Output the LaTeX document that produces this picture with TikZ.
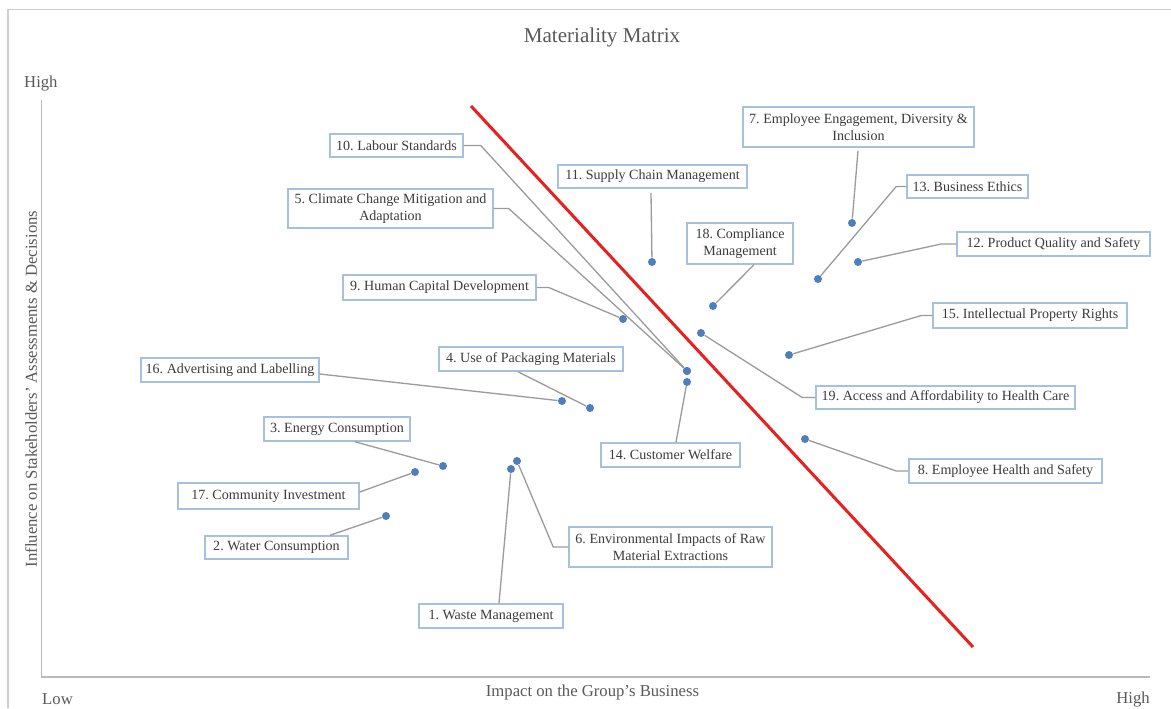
\documentclass[tikz,border=0pt]{standalone}
\usepackage{fontspec}
\setmainfont{Liberation Serif}
\usetikzlibrary{calc}
\usetikzlibrary{positioning}
\definecolor{boxblue}{RGB}{166,193,223}
\definecolor{dotblue}{RGB}{79,126,189}
\definecolor{leadgray}{RGB}{155,155,155}
\definecolor{axisgray}{RGB}{185,185,185}
\definecolor{txtgray}{RGB}{60,60,60}
\definecolor{matred}{RGB}{232,32,32}
\frenchspacing

\begin{document}
\begin{tikzpicture}[x=0.02cm,y=-0.02cm,
  lbl/.style n args={2}{draw=boxblue,line width=0.85pt,fill=white,text=txtgray,font=\fontsize{8}{9.5}\selectfont,align=center,inner sep=0pt,minimum width=#1*0.02cm,minimum height=#2*0.02cm},
  dot/.style={circle,fill=dotblue,inner sep=0pt,minimum size=0.16cm},
  leader/.style={draw=leadgray,line width=0.75pt},
  axlbl/.style={text=txtgray!85,font=\fontsize{9.5}{11}\selectfont}]
\useasboundingbox (0,0) rectangle (1171,708);

% frame and axes
\draw[axisgray!70,line width=0.8pt] (8,708) -- (8,9.5) -- (1171,9.5);
\draw[axisgray,line width=0.8pt] (41.5,100) -- (41.5,677) -- (1150,677);
\node[axlbl,font=\fontsize{12}{14}\selectfont] (title) at (602,37) {Materiality Matrix};
\node[axlbl,anchor=west] (yhigh) at (18,84) {High};
\node[axlbl,anchor=west] (xlow) at (36,699) {Low};
\node[axlbl,anchor=east] (xhigh) at (1156,699) {High};
\node[axlbl] (xlabel) at (592.5,692) {Impact on the Group’s Business};
\node[axlbl,rotate=90] (ylabel) at (31,389) {Influence on Stakeholders’ Assessments \& Decisions};

% issue labels
\node[lbl={144}{24}] (b1) at (491,616) {1. Waste Management};
\node[lbl={143}{23}] (b2) at (276.5,547.5) {2. Water Consumption};
\node[lbl={146}{24}] (b3) at (337,429) {3. Energy Consumption};
\node[lbl={184}{24}] (b4) at (531,359) {4. Use of Packaging Materials};
\node[lbl={205}{39}] (b5) at (390.5,208.5) {5. Climate Change Mitigation and\\Adaptation};
\node[lbl={203}{40}] (b6) at (670.5,547) {6. Environmental Impacts of Raw\\Material Extractions};
\node[lbl={231}{40}] (b7) at (858.5,127) {7. Employee Engagement, Diversity \&\\Inclusion};
\node[lbl={193}{24}] (b8) at (1005.5,471) {8. Employee Health and Safety};
\node[lbl={193}{25}] (b9) at (439.5,287.5) {9. Human Capital Development};
\node[lbl={133}{23}] (b10) at (396.5,145.5) {10. Labour Standards};
\node[lbl={189}{23}] (b11) at (652.5,176.5) {11. Supply Chain Management};
\node[lbl={193}{24}] (b12) at (1053.5,244) {12. Product Quality and Safety};
\node[lbl={121}{23}] (b13) at (967.5,186.5) {13. Business Ethics};
\node[lbl={139}{24}] (b14) at (670.5,455) {14. Customer Welfare};
\node[lbl={194}{25}] (b15) at (1030,315.5) {15. Intellectual Property Rights};
\node[lbl={178}{24}] (b16) at (230,370) {16. Advertising and Labelling};
\node[lbl={181}{26}] (b17) at (268.5,496) {17. Community Investment};
\node[lbl={106}{41}] (b18) at (740,243.5) {18. Compliance\\Management};
\node[lbl={259}{23}] (b19) at (945.5,397.5) {19. Access and Affordability to Health Care};

% data points
\node[dot] (d1) at (511,469) {};
\node[dot] (d2) at (386,516) {};
\node[dot] (d3) at (443,466) {};
\node[dot] (d4) at (590,408) {};
\node[dot] (d5) at (687,371) {};
\node[dot] (d6) at (517,461) {};
\node[dot] (d7) at (852,223) {};
\node[dot] (d8) at (805,439) {};
\node[dot] (d9) at (623,319) {};
\node[dot] (d10) at (687,371) {};
\node[dot] (d11) at (652,262) {};
\node[dot] (d12) at (858,262) {};
\node[dot] (d13) at (818,279) {};
\node[dot] (d14) at (687,382) {};
\node[dot] (d15) at (789,355) {};
\node[dot] (d16) at (562,401) {};
\node[dot] (d17) at (415,472) {};
\node[dot] (d18) at (713,306) {};
\node[dot] (d19) at (701,333) {};

% leader lines
\draw[leader] ($(b1.north)+(8,0)$) -- (d1);
\draw[leader] ($(b2.north)+(53.5,0)$) -- (d2);
\draw[leader] ($(b3.south)+(18,0)$) -- (d3);
\draw[leader] ($(b4.south)+(-13,0)$) -- (d4);
\draw[leader] (b5.east) -- ++(15,0) -- (d5);
\draw[leader] (b6.west) -- ++(-15,0) -- (d6);
\draw[leader] ($(b7.south)+(-0.5,3)$) -- (d7);
\draw[leader] (b8.west) -- ++(-12,0) -- (d8);
\draw[leader] (b9.east) -- ++(12,0) -- (d9);
\draw[leader] (b10.east) -- ++(17,0) -- (d10);
\draw[leader] ($(b11.south)+(-1.5,4)$) -- (d11);
\draw[leader] (b12.west) -- ++(-15,0) -- (d12);
\draw[leader] (b13.west) -- ++(-10,0) -- (d13);
\draw[leader] ($(b14.north)+(5.5,0)$) -- (d14);
\draw[leader] (b15.west) -- ++(-11,0) -- (d15);
\draw[leader] ($(b16.east)+(0,4)$) -- (d16);
\draw[leader] ($(b17.east)+(0,-4)$) -- (d17);
\draw[leader] ($(b18.south)+(14,0)$) -- (d18);
\draw[leader] (b19.west) -- ++(-13,0) -- (d19);

% threshold line
\draw[matred,line width=0.06cm] (471,106) -- (973,647);
\end{tikzpicture}
\end{document}
